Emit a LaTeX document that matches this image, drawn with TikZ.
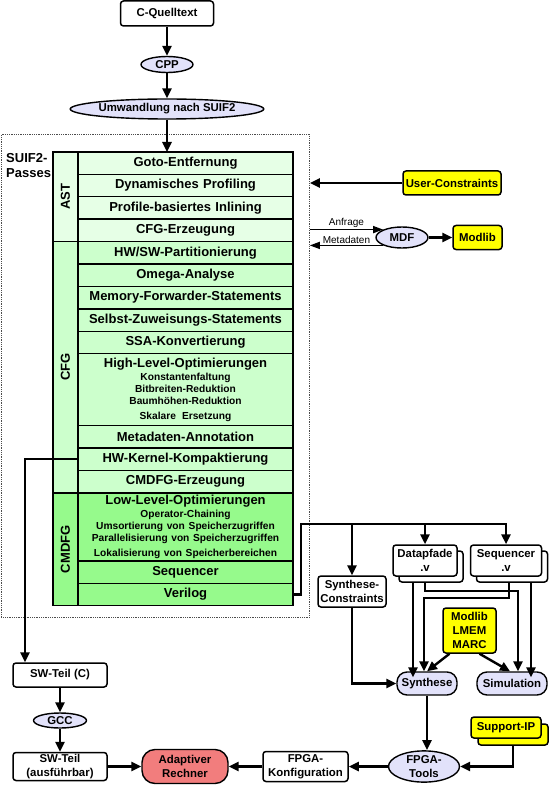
\documentclass[tikz,border=0pt]{standalone}
\usepackage{fontspec}
\setmainfont{Liberation Sans}
\usetikzlibrary{arrows.meta, calc, positioning, shapes, shadows, fit}

\definecolor{lav}{RGB}{226,226,250}
\definecolor{astgreen}{RGB}{230,255,230}
\definecolor{cfggreen}{RGB}{204,255,204}
\definecolor{cmdgreen}{RGB}{150,250,140}
\definecolor{ylw}{RGB}{255,255,0}
\definecolor{rechnerred}{RGB}{242,125,125}

\newcommand{\passdetail}{\fontsize{10.2}{12}\selectfont\spaceskip=0pt\xspaceskip=0pt\relax}

\begin{document}
\begin{tikzpicture}[x=1pt, y=-1pt,
        boxfont/.style={font=\fontsize{11.4}{14}\selectfont\bfseries},
        box/.style={draw, line width=1.5pt, rounded corners=3pt, fill=white, boxfont, inner sep=0pt, align=center},
        tool/.style={ellipse, draw, line width=1.4pt, fill=lav, boxfont, inner sep=0pt, align=center},
        pill/.style={draw, line width=1.4pt, rounded corners=10pt, fill=lav, boxfont, inner sep=0pt, align=center},
        lib/.style={box, fill=ylw},
        pass/.style={draw, line width=1.4pt, font=\fontsize{13}{15}\selectfont\bfseries, text width=213pt, inner xsep=1pt, inner ysep=0pt, outer sep=0pt, align=center, minimum height=22.4pt},
        group/.style={draw, line width=1.4pt, inner sep=0pt, outer sep=0pt},
        grouplabel/.style={rotate=90, font=\fontsize{13}{15}\selectfont\bfseries},
        arr/.style={-{Triangle[length=10pt,width=9pt]}, line width=2.4pt},
        thinarr/.style={-{Triangle[length=10pt,width=7pt]}, line width=1.5pt},
        msg/.style={font=\fontsize{10}{12}\selectfont, inner sep=1pt}]
        \useasboundingbox (0,0) rectangle (550,786);

        \node[draw=black!70, densely dotted, line width=0.8pt, minimum width=308pt, minimum height=483pt, inner sep=0pt, anchor=north west] (suif) at (1,134) {};
        \node[anchor=north west, align=left, inner sep=0pt, font=\fontsize{13}{15}\selectfont\bfseries] (suiflabel) at (6,153) {SUIF2-\\Passes};

        \node[box, minimum width=93pt, minimum height=25pt] (cquell) at (167,13.5) {C-Quelltext};
        \node[tool, minimum width=52pt, minimum height=16pt] (cpp) at (167,64.5) {CPP};
        \node[tool, minimum width=177pt, minimum height=20pt] (umw) at (167,109) {Umwandlung nach SUIF2};

        % passes
        \node[pass, fill=astgreen, anchor=north] (goto) at (185.5,152) {Goto-Entfernung};
        \node[pass, fill=astgreen, below=0pt of goto] (dynprof) {Dynamisches Profiling};
        \node[pass, fill=astgreen, below=0pt of dynprof] (inlining) {Profile-basiertes Inlining};
        \node[pass, fill=astgreen, below=0pt of inlining] (cfgerz) {CFG-Erzeugung};
        \node[pass, fill=cfggreen, below=0pt of cfgerz] (hwsw) {HW/SW-Partitionierung};
        \node[pass, fill=cfggreen, below=0pt of hwsw] (omega) {Omega-Analyse};
        \node[pass, fill=cfggreen, below=0pt of omega] (memfwd) {Memory-Forwarder-Statements};
        \node[pass, fill=cfggreen, below=0pt of memfwd] (selbst) {Selbst-Zuweisungs-Statements};
        \node[pass, fill=cfggreen, below=0pt of selbst] (ssa) {SSA-Konvertierung};
        \node[pass, fill=cfggreen, below=0pt of ssa, minimum height=72pt] (hlopt) {High-Level-Optimierungen\\[1pt]\passdetail Konstantenfaltung\\Bitbreiten-Reduktion\\Baumhöhen-Reduktion\\Skalare Ersetzung};
        \node[pass, fill=cfggreen, below=0pt of hlopt] (metaann) {Metadaten-Annotation};
        \node[pass, fill=cfggreen, below=0pt of metaann] (hwkernel) {HW-Kernel-Kompaktierung};
        \node[pass, fill=cfggreen, below=0pt of hwkernel] (cmdfgerz) {CMDFG-Erzeugung};
        \node[pass, fill=cmdgreen, below=0pt of cmdfgerz, minimum height=68pt] (llopt) {Low-Level-Optimierungen\\[1pt]\passdetail Operator-Chaining\\Umsortierung von Speicherzugriffen\\Parallelisierung von Speicherzugriffen\\Lokalisierung von Speicherbereichen};
        \node[pass, fill=cmdgreen, below=0pt of llopt] (sequencer) {Sequencer};
        \node[pass, fill=cmdgreen, below=0pt of sequencer] (verilog) {Verilog};

        \node[group, fill=astgreen, fit={($(goto.north west)+(-25,0)$) (cfgerz.south west)}] (ast) {};
        \node[group, fill=cfggreen, fit={($(hwsw.north west)+(-25,0)$) (cmdfgerz.south west)}] (cfg) {};
        \node[group, fill=cmdgreen, fit={($(llopt.north west)+(-25,0)$) (verilog.south west)}] (cmdfg) {};
        \node[grouplabel] (astlabel) at (ast.center) {AST};
        \node[grouplabel] (cfglabel) at (cfg.center) {CFG};
        \node[grouplabel] (cmdfglabel) at (cmdfg.center) {CMDFG};

        \node[lib, minimum width=98pt, minimum height=24pt] (usercons) at (452,183) {User-Constraints};
        \node[tool, minimum width=52pt, minimum height=21pt] (mdf) at (402,237.5) {MDF};
        \node[lib, minimum width=49pt, minimum height=24pt] (modlib) at (477.5,237.5) {Modlib};

        \node[box, minimum width=64pt, minimum height=31pt, copy shadow={shadow xshift=6pt, shadow yshift=-6pt, fill=white, draw=black, line width=1.5pt}] (datapfade) at (425,560.5) {Datapfade\\.v};
        \node[box, minimum width=71pt, minimum height=31pt, copy shadow={shadow xshift=6pt, shadow yshift=-6pt, fill=white, draw=black, line width=1.5pt}] (sequencerv) at (506,560.5) {Sequencer\\.v};
        \node[box, minimum width=68pt, minimum height=31pt] (synthcons) at (352,591.5) {Synthese-\\Constraints};
        \node[lib, minimum width=53pt, minimum height=45pt] (modlibx) at (469.5,630.5) {Modlib\\LMEM\\MARC};
        \node[pill, minimum width=60pt, minimum height=23pt] (synthese) at (427,683.5) {Synthese};
        \node[pill, minimum width=70pt, minimum height=23pt] (simulation) at (512,683.5) {Simulation};
        \node[lib, minimum width=70pt, minimum height=21pt, copy shadow={shadow xshift=7pt, shadow yshift=-7pt, fill=ylw, draw=black, line width=1.5pt}] (supportip) at (506,727.5) {Support-IP};
        \node[tool, minimum width=71pt, minimum height=31pt] (fpgatools) at (424,766.5) {FPGA-\\Tools};
        \node[box, minimum width=85pt, minimum height=30pt] (fpgakonf) at (305.5,766.5) {FPGA-\\Konfiguration};
        \node[pill, fill=rechnerred, rounded corners=13pt, minimum width=86pt, minimum height=34pt] (rechner) at (185,766.5) {Adaptiver\\Rechner};
        \node[box, minimum width=94pt, minimum height=28pt] (swexe) at (60,766.5) {SW-Teil\\(ausführbar)};
        \node[tool, minimum width=53pt, minimum height=15pt] (gcc) at (60,720.5) {GCC};
        \node[box, minimum width=94pt, minimum height=24pt] (swc) at (60,675) {SW-Teil (C)};

        \draw[arr] (cquell) -- (cpp);
        \draw[arr] (cpp) -- (umw);
        \draw[arr] (umw) -- (umw.south |- goto.north);
        \draw[arr] (usercons.west) -- (usercons.west -| suif.east);
        \draw[thinarr] (suif.east |- mdf.north west) -- node[above, msg] (anfrage) {Anfrage} (mdf.north west);
        \draw[thinarr] (mdf.south west) -- node[above, msg] (metadaten) {Metadaten} (mdf.south west -| suif.east);
        \draw[arr] (mdf) -- (modlib);

        \coordinate (bus) at (301,524);
        \draw[arr] (verilog.east) -| (bus) -| (sequencerv.north);
        \draw[arr] (bus -| synthcons.north) -- (synthcons.north);
        \draw[arr] (bus -| datapfade.north) -- (datapfade.north);
        \draw[arr] ([xshift=-12pt,yshift=-6pt]datapfade.south) -- ([xshift=-12pt,yshift=-6pt]datapfade.south |- synthese.north);
        \draw[arr] ([yshift=-6pt]datapfade.south) -- ++(0,8) -| ([xshift=6pt]simulation.north);
        \draw[arr] ([xshift=3pt,yshift=-6pt]sequencerv.south) -- ++(0,15) -| ([xshift=-3pt]synthese.north);
        \draw[arr] ([xshift=25pt,yshift=-6pt]sequencerv.south) -- ([xshift=25pt,yshift=-6pt]sequencerv.south |- simulation.north);
        \draw[arr] ([xshift=-20pt]modlibx.south) -- (synthese.north);
        \draw[arr] ([xshift=10pt]modlibx.south) -- ([xshift=-2pt]simulation.north);
        \draw[arr] (synthcons.south) |- (synthese.west);
        \draw[arr] (synthese.south) -- (synthese.south |- fpgatools.north);
        \draw[arr] ([xshift=7pt,yshift=-7pt]supportip.south) |- (fpgatools.east);
        \draw[arr] (fpgatools) -- (fpgakonf);
        \draw[arr] (fpgakonf) -- (rechner);
        \draw[arr] (swexe) -- (rechner);
        \draw[arr] (swc) -- (gcc);
        \draw[arr] (gcc) -- (swexe);
        \draw[arr] (hwkernel.west) -| ([xshift=-35pt]swc.north);
\end{tikzpicture}
\end{document}
